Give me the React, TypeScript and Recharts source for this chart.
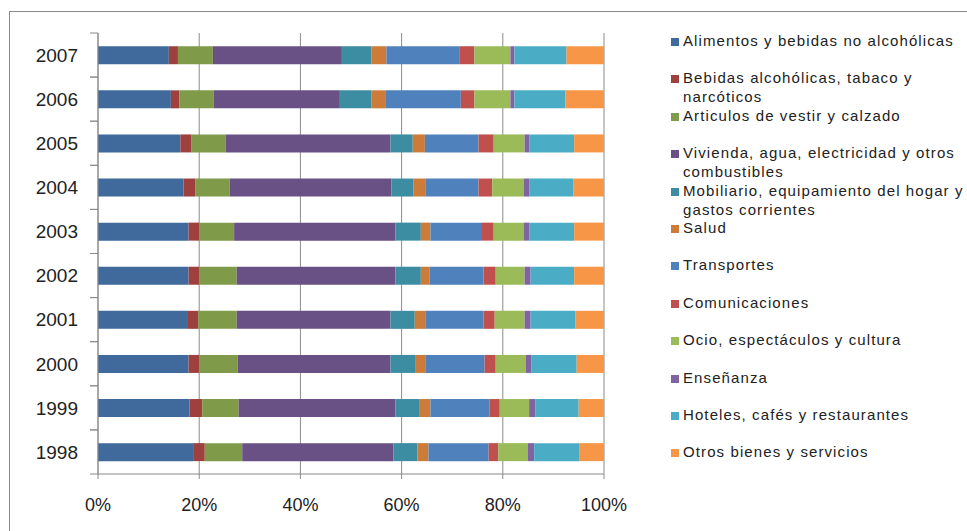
import { BarChart, Bar, XAxis, YAxis, CartesianGrid, Legend } from 'recharts';

// years bottom -> top (axis is reversed so 2007 sits on top)
const years = ['1998', '1999', '2000', '2001', '2002', '2003', '2004', '2005', '2006', '2007'];

// share of household spending per group, in %
const alimentos = [18.8, 18.1, 17.9, 17.6, 17.9, 17.9, 16.9, 16.3, 14.4, 14.0];
const bebidas = [2.3, 2.5, 2.1, 2.2, 2.1, 2.1, 2.3, 2.2, 1.7, 1.8];
const vestir = [7.4, 7.2, 7.6, 7.6, 7.4, 6.9, 6.8, 6.7, 6.8, 6.9];
const vivienda = [29.9, 31.0, 30.2, 30.4, 31.4, 31.9, 32.0, 32.6, 24.9, 25.5];
const mobiliario = [4.7, 4.8, 5.0, 4.8, 5.0, 5.0, 4.3, 4.4, 6.2, 5.8];
const salud = [2.2, 2.1, 2.0, 2.2, 1.7, 1.9, 2.5, 2.4, 2.9, 3.0];
const transportes = [11.9, 11.7, 11.6, 11.4, 10.7, 10.0, 10.4, 10.6, 14.8, 14.5];
const comunicaciones = [1.9, 2.0, 2.2, 2.2, 2.4, 2.5, 2.7, 3.0, 2.7, 2.9];
const ocio = [5.8, 5.8, 5.9, 5.9, 5.7, 5.9, 6.2, 6.1, 7.1, 7.1];
const ensenanza = [1.3, 1.2, 1.2, 1.2, 1.2, 1.2, 1.2, 1.0, 0.8, 0.8];
const hoteles = [9.0, 8.6, 8.9, 8.8, 8.6, 8.8, 8.6, 8.8, 10.1, 10.3];
const otros = [4.8, 5.0, 5.4, 5.7, 5.9, 5.9, 6.1, 5.9, 7.6, 7.4];

const xTicks = [0, 0.2, 0.4, 0.6, 0.8, 1];

const series = [
  { key: 'alimentos', name: 'Alimentos y bebidas no alcohólicas', values: alimentos, color: '#3F6A9B' },
  { key: 'bebidas', name: 'Bebidas alcohólicas, tabaco y\nnarcóticos', values: bebidas, color: '#9E403D' },
  { key: 'vestir', name: 'Articulos de vestir y calzado', values: vestir, color: '#7F9A48' },
  { key: 'vivienda', name: 'Vivienda, agua, electricidad y otros\ncombustibles', values: vivienda, color: '#6A5185' },
  { key: 'mobiliario', name: 'Mobiliario, equipamiento del hogar y\ngastos corrientes', values: mobiliario, color: '#3C8CA2' },
  { key: 'salud', name: 'Salud', values: salud, color: '#CC7B38' },
  { key: 'transportes', name: 'Transportes', values: transportes, color: '#4F81BD' },
  { key: 'comunicaciones', name: 'Comunicaciones', values: comunicaciones, color: '#C0504D' },
  { key: 'ocio', name: 'Ocio, espectáculos y cultura', values: ocio, color: '#9BBB59' },
  { key: 'ensenanza', name: 'Enseñanza', values: ensenanza, color: '#8064A2' },
  { key: 'hoteles', name: 'Hoteles, cafés y restaurantes', values: hoteles, color: '#4BACC6' },
  { key: 'otros', name: 'Otros bienes y servicios', values: otros, color: '#F79646' },
];

const data = years.map((year, i) => {
  const row: Record<string, string | number> = { year };
  series.forEach((s) => {
    row[s.key] = s.values[i];
  });
  return row;
});

const FONT = '"Liberation Sans", Arial, sans-serif';
const AXIS_GREY = '#8a8a8a';
const TICK_SIZE = 8;
const TICK_MARGIN = 12;

/** Year label plus the little tick marks Excel puts between categories */
function YearTick(props: any) {
  const { x, y, payload } = props;
  const half = payload?.offset || 22;
  const axisX = x + TICK_MARGIN + TICK_SIZE;
  return (
    <g>
      <line x1={axisX - TICK_SIZE} x2={axisX} y1={y - half} y2={y - half} stroke={AXIS_GREY} />
      <line x1={axisX - TICK_SIZE} x2={axisX} y1={y + half} y2={y + half} stroke={AXIS_GREY} />
      <text x={x} y={y} dy="0.36em" textAnchor="end" fontSize={19} fill="#222" fontFamily={FONT}>
        {payload.value}
      </text>
    </g>
  );
}

// legend keeps the series order (recharts would sort it alphabetically)
function LegendList() {
  return (
    <div style={{ fontFamily: FONT, fontSize: 15, color: '#222', letterSpacing: 1.1 }}>
      {series.map((s) => (
        <div key={s.key} style={{ height: 37.4, display: 'flex', alignItems: 'flex-start' }}>
          <div
            style={{
              width: 8,
              height: 8,
              background: s.color,
              marginTop: 6,
              marginRight: 4,
              flex: 'none',
            }}
          />
          <div style={{ whiteSpace: 'pre', lineHeight: '19px', marginTop: -1 }}>{s.name}</div>
        </div>
      ))}
    </div>
  );
}

export default function App() {
  return (
    <div style={{ position: 'relative', width: 967, height: 531, background: '#fff' }}>
      <style>{'body{margin:0}'}</style>
      {/* chart area frame (only top and left edges are visible) */}
      <div
        style={{
          position: 'absolute',
          left: 9,
          top: 11,
          right: -2,
          bottom: -2,
          borderLeft: `1px solid ${AXIS_GREY}`,
          borderTop: `1px solid ${AXIS_GREY}`,
        }}
      />
      <BarChart
        width={967}
        height={531}
        data={data}
        layout="vertical"
        stackOffset="expand"
        barCategoryGap="30%"
        margin={{ top: 33, right: 63, bottom: 17, left: 0 }}
        style={{ position: 'absolute', left: 0, top: 0, fontFamily: FONT }}
      >
        <CartesianGrid horizontal={false} stroke={AXIS_GREY} />
        <XAxis
          type="number"
          domain={[0, 1]}
          ticks={xTicks}
          tickFormatter={(v: number) => `${Math.round(v * 100)}%`}
          height={40}
          tickSize={5}
          tickMargin={19}
          axisLine={{ stroke: AXIS_GREY }}
          tickLine={{ stroke: AXIS_GREY }}
          tick={{ fontSize: 18, fill: '#222', fontFamily: FONT }}
          interval={0}
        />
        <YAxis
          type="category"
          dataKey="year"
          reversed
          width={98}
          tickSize={TICK_SIZE}
          tickMargin={TICK_MARGIN}
          tickLine={false}
          axisLine={{ stroke: AXIS_GREY }}
          tick={<YearTick />}
          interval={0}
        />
        <Legend
          layout="vertical"
          align="right"
          verticalAlign="top"
          wrapperStyle={{ left: 671, top: 32, width: 300 }}
          content={<LegendList />}
        />
        {series.map((s) => (
          <Bar
            key={s.key}
            dataKey={s.key}
            name={s.name}
            stackId="a"
            fill={s.color}
            isAnimationActive={false}
          />
        ))}
      </BarChart>
    </div>
  );
}
